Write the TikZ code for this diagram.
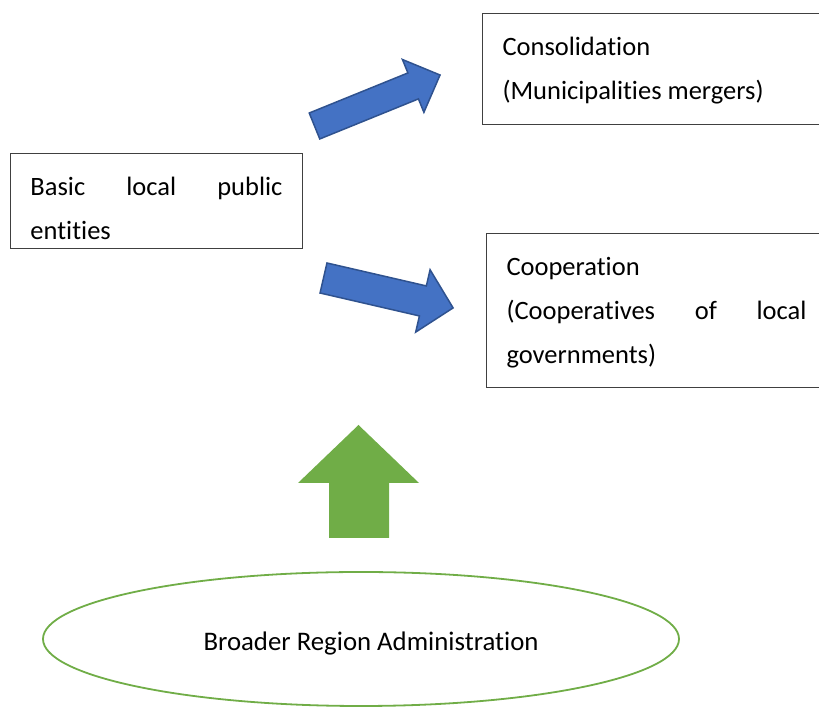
\documentclass[tikz,border=0pt]{standalone}
\usepackage{fontspec}
\setmainfont{Carlito}[Ligatures = NoCommon]
\usetikzlibrary{shapes.geometric}

\definecolor{arrowblue}{HTML}{4472C4}
\definecolor{arrowedge}{HTML}{2F528F}
\definecolor{leafgreen}{HTML}{70AD47}

% struts: room above the first line, room below the last one
\newcommand{\topstrut}{\rule{0pt}{42pt}}
\newcommand{\botstrut}[1]{\rule[-#1pt]{0pt}{#1pt}}

\begin{document}
\begin{tikzpicture}[x=1pt, y=1pt,
    box/.style = {draw = black!75, line width = 1pt, anchor = north west,
                  inner xsep = 20pt, inner ysep = 0pt, align = justify,
                  font = \fontsize{26.5}{44}\selectfont},
    bluearrow/.style = {fill = arrowblue, draw = arrowedge, line width = 1.5pt},
    greenarrow/.style = {fill = leafgreen},
    region/.style = {ellipse, draw = leafgreen, line width = 1.8pt,
                     minimum width = 636pt, minimum height = 134pt, inner sep = 0pt},
    regiontext/.style = {inner sep = 0pt, text height = 18pt, text depth = 5pt,
                         font = \fontsize{26.8}{30}\selectfont}]

    \useasboundingbox (0,0) rectangle (819,708);

    % the three boxes
    \node [box, text width = 252pt] (basic) at (10,555)
        {\topstrut Basic local public\linebreak entities\botstrut{9}};
    \node [box, text width = 320pt] (consol) at (482,695)
        {\topstrut Consolidation\newline (Municipalities mergers)\botstrut{25}};
    \node [box, text width = 300pt] (coop) at (486,475)
        {\topstrut Cooperation\newline (Cooperatives of local\linebreak governments)\botstrut{24}};

    % blue arrow up to consolidation
    \begin{scope}[shift = {(314.5,582)}, rotate = 22.1]
        \draw [bluearrow] (0,-14) -- (106.5,-14) -- (106.5,-28.5) -- (135.5,0)
            -- (106.5,28.5) -- (106.5,14) -- (0,14) -- cycle;
    \end{scope}

    % blue arrow down to cooperation
    \begin{scope}[shift = {(323.5,430)}, rotate = -13]
        \draw [bluearrow] (0,-15.4) -- (102,-15.4) -- (102,-32) -- (133,0)
            -- (102,32) -- (102,15.4) -- (0,15.4) -- cycle;
    \end{scope}

    % green arrow
    \fill [greenarrow] (329,170) -- (329,225) -- (298,225) -- (358.5,283)
        -- (419,225) -- (389,225) -- (389,170) -- cycle;

    \node [region] (region) at (361,69) {};
    \node [regiontext] (regiontext) at ([xshift = 10pt, yshift = -5pt] region.center)
        {Broader Region Administration};
\end{tikzpicture}
\end{document}
